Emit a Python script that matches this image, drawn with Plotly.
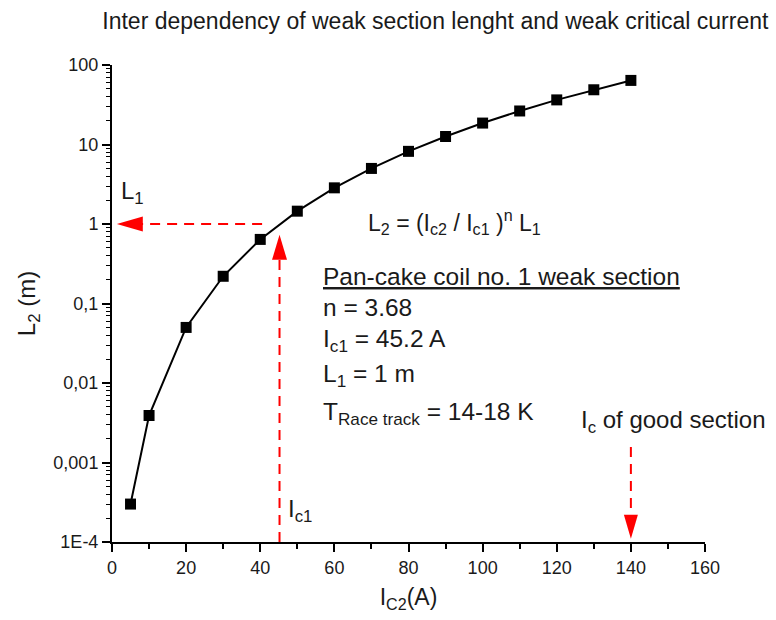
import plotly.graph_objects as go

# ---- data ----
ic2 = [5, 10, 20, 30, 40, 50, 60, 70, 80, 90, 100, 110, 120, 130, 140]
l2 = [0.0003, 0.0039, 0.05, 0.22, 0.64, 1.45, 2.85, 5.0, 8.2, 12.6, 18.6, 26.4, 36.4, 48.8, 64.0]

y_tickvals = [1e-4, 1e-3, 1e-2, 1e-1, 1, 10, 100]
y_ticktext = ["1E-4", "0,001", "0,01", "0,1", "1", "10", "100"]
y_minor = [m * 10 ** k for k in range(-4, 2) for m in range(2, 10)]

ic1 = 45.2       # weak section critical current
ic_good = 140    # critical current of good section
l1 = 1           # L1

RED = "#ff0000"
FONT = "Liberation Sans, Arial, sans-serif"
TXT = "#1a1a1a"

fig = go.Figure()
fig.add_trace(go.Scatter(
    x=ic2, y=l2, mode="lines+markers",
    line=dict(color="black", width=2),
    marker=dict(symbol="square", size=11, color="black"),
    showlegend=False,
))

dash = "10px,7px"
# horizontal L1 arrow (dashed line + head)
fig.add_shape(type="line", x0=40.5, x1=8.0, y0=l1, y1=l1,
              line=dict(color=RED, width=2, dash=dash))
fig.add_shape(type="path", xsizemode="pixel", ysizemode="pixel",
              xanchor=1.3, yanchor=l1, path="M0,0 L26,7.5 L26,-7.5 Z",
              fillcolor=RED, line=dict(width=0))
# vertical Ic1 arrow
fig.add_shape(type="line", x0=ic1, x1=ic1, y0=1e-4, y1=0.4,
              line=dict(color=RED, width=2, dash=dash))
fig.add_shape(type="path", xsizemode="pixel", ysizemode="pixel",
              xanchor=ic1, yanchor=0.73, path="M0,0 L-7.5,-25 L7.5,-25 Z",
              fillcolor=RED, line=dict(width=0))
# Ic of good section arrow
fig.add_shape(type="line", x0=ic_good, x1=ic_good, y0=0.00157, y1=0.00018,
              line=dict(color=RED, width=2, dash=dash))
fig.add_shape(type="path", xsizemode="pixel", ysizemode="pixel",
              xanchor=ic_good, yanchor=1.1e-4, path="M0,0 L-7,24 L7,24 Z",
              fillcolor=RED, line=dict(width=0))

def ann(x, ylog, text, xanchor="left", size=24):
    fig.add_annotation(x=x, y=ylog, xref="x", yref="y", text=text,
                       showarrow=False, xanchor=xanchor, yanchor="middle",
                       font=dict(family=FONT, size=size, color=TXT))

ann(5.4, 0.40, "L<sub>1</sub>", xanchor="center")
ann(68.4, 0.03, "L<sub>2</sub> = (I<sub>c2</sub> / I<sub>c1</sub> )<sup>n</sup> L<sub>1</sub>", size=23)
ann(56.5, -0.66, "<u>Pan-cake coil no. 1 weak section</u>", size=24.5)
ann(56.5, -1.05, "n = 3.68", size=24.5)
ann(56.5, -1.47, "I<sub>c1</sub> = 45.2 A", size=24.5)
ann(56.5, -1.90, "L<sub>1</sub> = 1 m", size=24.5)
ann(56.5, -2.38, "T<sub>Race track</sub> = 14-18 K", size=24.5)
ann(47.0, -3.60, "I<sub>c1</sub>")
ann(151.5, -2.49, "I<sub>c</sub> of good section", xanchor="center")

fig.update_layout(
    width=776, height=620,
    margin=dict(l=112, r=71, t=65, b=78),
    paper_bgcolor="white", plot_bgcolor="white",
    font=dict(family=FONT, size=18, color=TXT),
    title=dict(text="Inter dependency of weak section lenght and weak critical current",
               x=0.561, xref="container", xanchor="center",
               y=0.966, yref="container", yanchor="middle",
               font=dict(size=23, family=FONT, color=TXT)),
    xaxis=dict(range=[0, 160], dtick=20, tick0=0, showgrid=False, zeroline=False,
               showline=True, linecolor="black", linewidth=2,
               ticks="outside", ticklen=8, tickwidth=1.5, tickcolor="black",
               minor=dict(ticks="outside", ticklen=5, dtick=10, tickcolor="black", tickwidth=1.5),
               title=dict(text="I<sub>C2</sub>(A)", font=dict(size=23), standoff=12)),
    yaxis=dict(type="log", range=[-4, 2], tickmode="array",
               tickvals=y_tickvals, ticktext=y_ticktext,
               showgrid=False, zeroline=False,
               showline=True, linecolor="black", linewidth=2,
               ticks="outside", ticklen=8, tickwidth=1.5, tickcolor="black",
               minor=dict(ticks="outside", ticklen=4, tickmode="array", tickvals=y_minor,
                          tickcolor="black", tickwidth=1),
               title=dict(text="L<sub>2</sub> (m)", font=dict(size=24), standoff=11)),
)

fig.write_html("out.html")
